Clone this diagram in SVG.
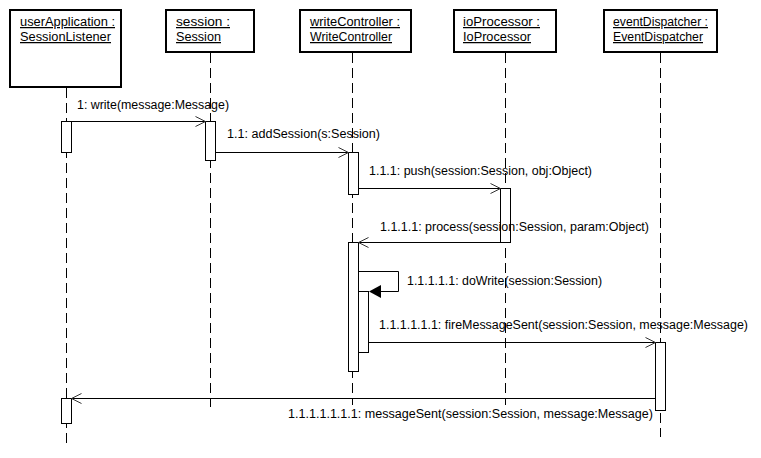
<svg xmlns="http://www.w3.org/2000/svg" width="761" height="458" viewBox="0 0 761 458">
<style>
.box{fill:#fff;stroke:#000;stroke-width:2}
.life{stroke:#000;stroke-width:1;stroke-dasharray:10,5;fill:none}
.act{fill:#fff;stroke:#000;stroke-width:1}
.msg{stroke:#000;stroke-width:1;fill:none}
text{font-family:"Liberation Sans",Arial,sans-serif;font-size:12.5px;fill:#000}
.u{text-decoration:underline}
</style>
<defs>
<marker id="open" markerUnits="userSpaceOnUse" markerWidth="12" markerHeight="12" viewBox="-11 -6 12 12" refX="0" refY="0" orient="auto">
<path d="M-10,-5 L0,0 L-10,5" fill="none" stroke="#333" stroke-width="1"/>
</marker>
</defs>
<rect width="761" height="458" fill="#fff"/>

<g id="lifelines">
<line class="life" x1="66.5" y1="88" x2="66.5" y2="448"/>
<line class="life" x1="210.5" y1="53" x2="210.5" y2="407"/>
<line class="life" x1="352.5" y1="53" x2="352.5" y2="405"/>
<line class="life" x1="505.5" y1="53" x2="505.5" y2="405"/>
<line class="life" x1="660.5" y1="53" x2="660.5" y2="437"/>
</g>

<g id="userApplication">
<rect class="box" x="10" y="10" width="111" height="77"/>
<text class="u" x="20" y="26" textLength="95" lengthAdjust="spacingAndGlyphs">userApplication :</text>
<text class="u" x="20" y="41" textLength="91" lengthAdjust="spacingAndGlyphs">SessionListener</text>
<rect class="act" x="61.5" y="121.5" width="10" height="31"/>
<rect class="act" x="61.5" y="398.5" width="10" height="25"/>
</g>

<g id="session">
<rect class="box" x="166" y="10" width="88" height="42"/>
<text class="u" x="176" y="26" textLength="54" lengthAdjust="spacingAndGlyphs">session :</text>
<text class="u" x="176" y="41" textLength="45" lengthAdjust="spacingAndGlyphs">Session</text>
<rect class="act" x="205.5" y="121.5" width="10" height="39"/>
</g>

<g id="writeController">
<rect class="box" x="300" y="10" width="111" height="42"/>
<text class="u" x="310" y="26" textLength="90" lengthAdjust="spacingAndGlyphs">writeController :</text>
<text class="u" x="310" y="41" textLength="82" lengthAdjust="spacingAndGlyphs">WriteController</text>
<rect class="act" x="348.5" y="152.5" width="10" height="42"/>
<rect class="act" x="348.5" y="242.5" width="10" height="129"/>
<rect class="act" x="358.5" y="291.5" width="10" height="61"/>
</g>

<g id="ioProcessor">
<rect class="box" x="454" y="10" width="102" height="42"/>
<text class="u" x="463" y="26" textLength="77" lengthAdjust="spacingAndGlyphs">ioProcessor :</text>
<text class="u" x="463" y="41" textLength="68" lengthAdjust="spacingAndGlyphs">IoProcessor</text>
<rect class="act" x="500.5" y="188.5" width="10" height="54"/>
</g>

<g id="eventDispatcher">
<rect class="box" x="604" y="10" width="113" height="42"/>
<text class="u" x="613" y="26" textLength="95" lengthAdjust="spacingAndGlyphs">eventDispatcher :</text>
<text class="u" x="613" y="41" textLength="90" lengthAdjust="spacingAndGlyphs">EventDispatcher</text>
<rect class="act" x="655.5" y="342.5" width="10" height="68"/>
</g>

<g id="connectors">
<line class="msg" x1="71.5" y1="121.5" x2="205.5" y2="121.5" marker-end="url(#open)"/>
<line class="msg" x1="215.5" y1="152.5" x2="348.5" y2="152.5" marker-end="url(#open)"/>
<line class="msg" x1="358.5" y1="188.5" x2="500.5" y2="188.5" marker-end="url(#open)"/>
<line class="msg" x1="500.5" y1="242.5" x2="358.5" y2="242.5" marker-end="url(#open)"/>
<path class="msg" d="M358.5,271.5 H398.5 V291.5 H380"/>
<path d="M369,291.5 L381,285 L381,298 Z" fill="#000"/>
<line class="msg" x1="368.5" y1="342.5" x2="655.5" y2="342.5" marker-end="url(#open)"/>
<line class="msg" x1="655.5" y1="398.5" x2="71.5" y2="398.5" marker-end="url(#open)"/>
</g>

<g id="labels">
<text x="77" y="109" textLength="152" lengthAdjust="spacingAndGlyphs">1: write(message:Message)</text>
<text x="227" y="138" textLength="153" lengthAdjust="spacingAndGlyphs">1.1: addSession(s:Session)</text>
<text x="369" y="175" textLength="223" lengthAdjust="spacingAndGlyphs">1.1.1: push(session:Session, obj:Object)</text>
<text x="380" y="231" textLength="269" lengthAdjust="spacingAndGlyphs">1.1.1.1: process(session:Session, param:Object)</text>
<text x="407" y="285" textLength="195" lengthAdjust="spacingAndGlyphs">1.1.1.1.1: doWrite(session:Session)</text>
<text x="379" y="329" textLength="369" lengthAdjust="spacingAndGlyphs">1.1.1.1.1.1: fireMessageSent(session:Session, message:Message)</text>
<text x="288" y="418" textLength="365" lengthAdjust="spacingAndGlyphs">1.1.1.1.1.1.1: messageSent(session:Session, message:Message)</text>
</g>
</svg>
